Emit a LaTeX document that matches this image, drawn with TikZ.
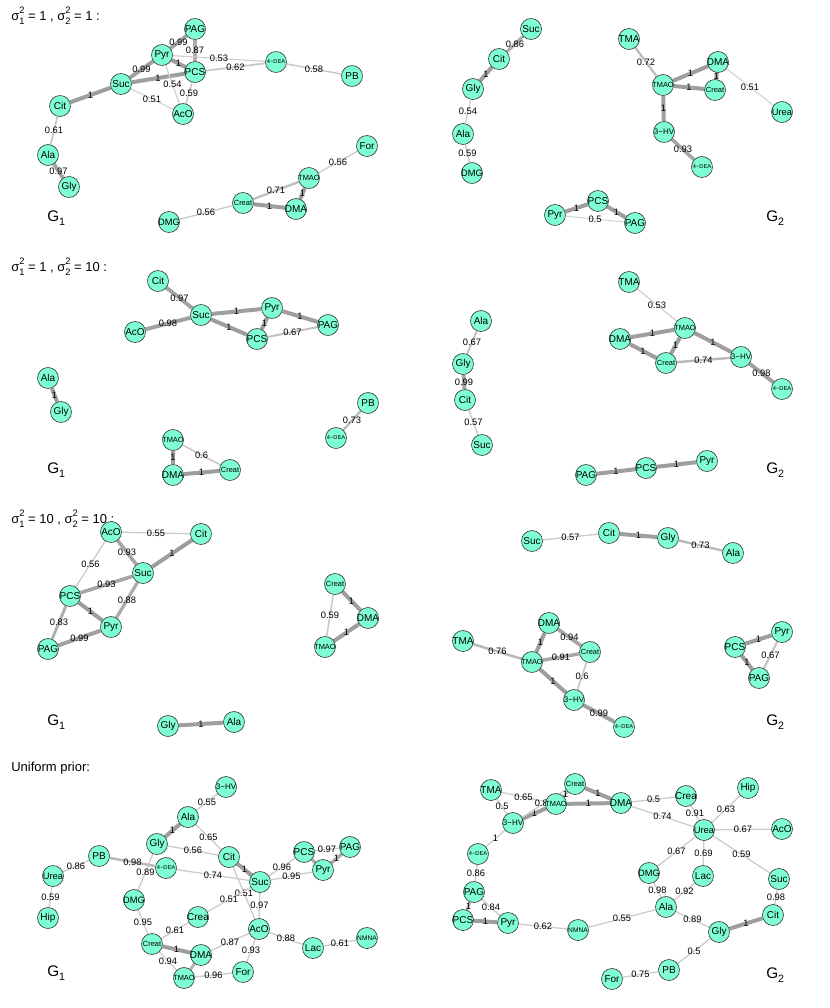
\documentclass[tikz,border=0pt]{standalone}
\usepackage{fontspec}
\setmainfont{Liberation Sans}
\definecolor{aqua}{HTML}{7FFFD4}
\pgfdeclarelayer{bg}
\pgfsetlayers{bg,main}
\tikzset{
  vtx/.style={circle, fill=aqua, draw=black!75, line width=0.5pt, minimum size=15.75pt, inner sep=0pt},
  elab/.style={font=\fontsize{7}{8}\selectfont, inner sep=0pt, text=black},
  ttl/.style={font=\fontsize{9.75}{11}\selectfont, anchor=west, inner sep=0pt},
  glab/.style={font=\fontsize{11.5}{13}\selectfont, anchor=west, inner sep=0pt}
}
\newcommand\VV[4][7.5]{\node[vtx,font=\fontsize{#1}{#1}\selectfont] (#2) at (#3) {\makebox[0pt]{#4}};}
\newcommand\EE[4][]{%
  \def\wt{#1}\ifx\wt\empty\def\wt{#4}\fi
  \pgfmathsetmacro\lw{0.75*(1+6*(\wt-0.5))}%
  \pgfmathtruncatemacro\gv{18+40*(\wt-0.5)}%
  \begin{pgfonlayer}{bg}
  \draw[line width=\lw pt,draw=black!\gv] (#2) -- node[elab]{#4} (#3);
  \end{pgfonlayer}}
\newcommand\sgm[1]{σ\rlap{\raisebox{0.5em}{\fontsize{7}{7}\selectfont 2}}\raisebox{-0.35em}{\fontsize{7}{7}\selectfont #1}}
\newcommand\Gsub[1]{G\raisebox{-0.3em}{\fontsize{8}{8}\selectfont #1}}
\begin{document}
\begin{tikzpicture}[x=0.75pt,y=-0.75pt]
\useasboundingbox (0,0) rectangle (830,1008);
% titles and graph labels
\node[ttl] (t1) at (11,16) {\sgm{1} = 1 , \sgm{2} = 1 :};
\node[ttl] (t2) at (11,267) {\sgm{1} = 1 , \sgm{2} = 10 :};
\node[ttl] (t3) at (11,519) {\sgm{1} = 10 , \sgm{2} = 10 :};
\node[ttl] (t4) at (11,768) {Uniform prior:};
\node[glab] (g11) at (47,218) {\Gsub{1}};
\node[glab] (g12) at (766,218) {\Gsub{2}};
\node[glab] (g21) at (47,470) {\Gsub{1}};
\node[glab] (g22) at (766,470) {\Gsub{2}};
\node[glab] (g31) at (47,722) {\Gsub{1}};
\node[glab] (g32) at (766,722) {\Gsub{2}};
\node[glab] (g41) at (47,973) {\Gsub{1}};
\node[glab] (g42) at (766,975) {\Gsub{2}};
% ---------- panel 1 G1
\VV{aPAG}{195,29}{PAG}
\VV{aPyr}{162,55}{Pyr}
\VV{aPCS}{195,72}{PCS}
\VV[4.3]{a4DEA}{276,62}{4−DEA}
\VV{aPB}{352,76}{PB}
\VV{aSuc}{121,84}{Suc}
\VV{aCit}{60,106}{Cit}
\VV{aAcO}{183,114}{AcO}
\VV{aAla}{48,155}{Ala}
\VV{aGly}{69,187}{Gly}
\VV{aFor}{367,146}{For}
\VV[5.6]{aTMAO}{309,178}{TMAO}
\VV{aDMA}{296,209}{DMA}
\VV[5.6]{aCreat}{243,203}{Creat}
\VV[7]{aDMG}{169,222}{DMG}
\EE[0.95]{aPAG}{aPyr}{0.99}
\EE{aPAG}{aPCS}{0.87}
\EE{aPyr}{aPCS}{1}
\EE{aPyr}{a4DEA}{0.53}
\EE{aPCS}{a4DEA}{0.62}
\EE{a4DEA}{aPB}{0.58}
\EE{aSuc}{aPyr}{0.99}
\EE{aSuc}{aPCS}{1}
\EE{aPyr}{aAcO}{0.54}
\EE{aPCS}{aAcO}{0.59}
\EE{aSuc}{aAcO}{0.51}
\EE{aSuc}{aCit}{1}
\EE{aCit}{aAla}{0.61}
\EE{aAla}{aGly}{0.97}
\EE{aFor}{aTMAO}{0.56}
\EE{aTMAO}{aCreat}{0.71}
\EE{aTMAO}{aDMA}{1}
\EE{aCreat}{aDMA}{1}
\EE{aCreat}{aDMG}{0.56}
% ---------- panel 1 G2
\VV{bSuc}{531,29}{Suc}
\VV{bCit}{499,59}{Cit}
\VV{bGly}{473,89}{Gly}
\VV{bAla}{463,134}{Ala}
\VV[7]{bDMG}{472,173}{DMG}
\VV{bTMA}{629,39}{TMA}
\VV{bDMA}{718,62}{DMA}
\VV[5.6]{bTMAO}{663,85}{TMAO}
\VV[5.6]{bCreat}{715,90}{Creat}
\VV[7]{bUrea}{782,112}{Urea}
\VV[6]{b3HV}{664,132}{3−HV}
\VV[4.3]{b4DEA}{702,167}{4−DEA}
\VV{bPCS}{598,201}{PCS}
\VV{bPyr}{555,215}{Pyr}
\VV{bPAG}{635,223}{PAG}
\EE{bSuc}{bCit}{0.86}
\EE{bCit}{bGly}{1}
\EE{bGly}{bAla}{0.54}
\EE{bAla}{bDMG}{0.59}
\EE{bTMA}{bTMAO}{0.72}
\EE{bTMAO}{bDMA}{1}
\EE{bTMAO}{bCreat}{1}
\EE{bDMA}{bCreat}{1}
\EE{bDMA}{bUrea}{0.51}
\EE{bTMAO}{b3HV}{1}
\EE{b3HV}{b4DEA}{0.93}
\EE{bPyr}{bPCS}{1}
\EE{bPCS}{bPAG}{1}
\EE{bPyr}{bPAG}{0.5}
% ---------- panel 2 G1
\VV{cCit}{158,281}{Cit}
\VV{cSuc}{201,315}{Suc}
\VV{cAcO}{135,332}{AcO}
\VV{cPyr}{272,308}{Pyr}
\VV{cPAG}{328,325}{PAG}
\VV{cPCS}{257,339}{PCS}
\VV{cAla}{48,378}{Ala}
\VV{cGly}{61,412}{Gly}
\VV{cPB}{368,403}{PB}
\VV[4.3]{c4DEA}{336,438}{4−DEA}
\VV[5.6]{cTMAO}{173,440}{TMAO}
\VV{cDMA}{173,475}{DMA}
\VV[5.6]{cCreat}{230,470}{Creat}
\EE{cCit}{cSuc}{0.97}
\EE{cAcO}{cSuc}{0.98}
\EE{cSuc}{cPyr}{1}
\EE{cSuc}{cPCS}{1}
\EE{cPyr}{cPCS}{1}
\EE{cPyr}{cPAG}{1}
\EE{cPCS}{cPAG}{0.67}
\EE{cAla}{cGly}{1}
\EE{cPB}{c4DEA}{0.73}
\EE{cTMAO}{cDMA}{1}
\EE{cTMAO}{cCreat}{0.6}
\EE{cDMA}{cCreat}{1}
% ---------- panel 2 G2
\VV{dTMA}{629,282}{TMA}
\VV{dAla}{481,321}{Ala}
\VV[5.6]{dTMAO}{685,328}{TMAO}
\VV{dDMA}{620,339}{DMA}
\VV[5.6]{dCreat}{666,363}{Creat}
\VV[6]{d3HV}{741,357}{3−HV}
\VV[4.3]{d4DEA}{782,389}{4−DEA}
\VV{dGly}{463,364}{Gly}
\VV{dCit}{465,400}{Cit}
\VV{dSuc}{482,445}{Suc}
\VV{dPAG}{586,475}{PAG}
\VV{dPCS}{646,468}{PCS}
\VV{dPyr}{707,461}{Pyr}
\EE{dTMA}{dTMAO}{0.53}
\EE{dDMA}{dTMAO}{1}
\EE{dDMA}{dCreat}{1}
\EE{dTMAO}{dCreat}{1}
\EE{dTMAO}{d3HV}{1}
\EE{dCreat}{d3HV}{0.74}
\EE{d3HV}{d4DEA}{0.98}
\EE{dAla}{dGly}{0.67}
\EE{dGly}{dCit}{0.99}
\EE{dCit}{dSuc}{0.57}
\EE{dPAG}{dPCS}{1}
\EE{dPCS}{dPyr}{1}
% ---------- panel 3 G1
\VV{eAcO}{111,532}{AcO}
\VV{eCit}{201,534}{Cit}
\VV{eSuc}{143,573}{Suc}
\VV{ePCS}{70,596}{PCS}
\VV{ePyr}{111,627}{Pyr}
\VV{ePAG}{48,649}{PAG}
\VV[5.6]{eCreat}{335,584}{Creat}
\VV{eDMA}{368,618}{DMA}
\VV[5.6]{eTMAO}{325,647}{TMAO}
\VV{eGly}{168,726}{Gly}
\VV{eAla}{234,722}{Ala}
\EE{eAcO}{eCit}{0.55}
\EE{eAcO}{eSuc}{0.93}
\EE{eCit}{eSuc}{1}
\EE{eAcO}{ePCS}{0.56}
\EE{ePCS}{eSuc}{0.93}
\EE{ePCS}{ePyr}{1}
\EE{eSuc}{ePyr}{0.88}
\EE{ePCS}{ePAG}{0.83}
\EE{ePAG}{ePyr}{0.99}
\EE{eCreat}{eDMA}{1}
\EE{eCreat}{eTMAO}{0.59}
\EE{eTMAO}{eDMA}{1}
\EE{eGly}{eAla}{1}
% ---------- panel 3 G2
\VV{fSuc}{532,541}{Suc}
\VV{fCit}{609,533}{Cit}
\VV{fGly}{668,538}{Gly}
\VV{fAla}{733,553}{Ala}
\VV{fTMA}{463,641}{TMA}
\VV{fDMA}{549,623}{DMA}
\VV[5.6]{fCreat}{590,652}{Creat}
\VV[5.6]{fTMAO}{532,662}{TMAO}
\VV[6]{f3HV}{574,700}{3−HV}
\VV[4.3]{f4DEA}{624,727}{4−DEA}
\VV{fPCS}{735,647}{PCS}
\VV{fPyr}{782,632}{Pyr}
\VV{fPAG}{759,678}{PAG}
\EE{fSuc}{fCit}{0.57}
\EE{fCit}{fGly}{1}
\EE{fGly}{fAla}{0.73}
\EE{fTMA}{fTMAO}{0.76}
\EE{fDMA}{fTMAO}{1}
\EE{fDMA}{fCreat}{0.94}
\EE{fTMAO}{fCreat}{0.91}
\EE{fTMAO}{f3HV}{1}
\EE{fCreat}{f3HV}{0.6}
\EE{f3HV}{f4DEA}{0.99}
\EE{fPCS}{fPyr}{1}
\EE{fPCS}{fPAG}{1}
\EE{fPyr}{fPAG}{0.67}
% ---------- panel 4 G1
\VV[6]{g3HV}{226,787}{3−HV}
\VV{gAla}{188,817}{Ala}
\VV{gGly}{157,844}{Gly}
\VV{gCit}{229,857}{Cit}
\VV{gPB}{99,856}{PB}
\VV[4.3]{g4DEA}{166,868}{4−DEA}
\VV[7]{gUrea}{53,876}{Urea}
\VV{gSuc}{260,882}{Suc}
\VV{gPCS}{304,852}{PCS}
\VV{gPAG}{350,847}{PAG}
\VV{gPyr}{323,870}{Pyr}
\VV[7]{gDMG}{134,900}{DMG}
\VV{gHip}{48,918}{Hip}
\VV{gCrea}{198,917}{Crea}
\VV{gAcO}{259,929}{AcO}
\VV[5]{gNMNA}{367,938}{NMNA}
\VV{gLac}{313,948}{Lac}
\VV[5.6]{gCreat}{152,944}{Creat}
\VV{gDMA}{201,955}{DMA}
\VV[5.6]{gTMAO}{184,978}{TMAO}
\VV{gFor}{243,972}{For}
\EE[0.55]{g3HV}{gAla}{0.55}
\EE{gAla}{gGly}{1}
\EE[0.55]{gAla}{gCit}{0.65}
\EE[0.55]{gGly}{gCit}{0.56}
\EE[0.55]{gUrea}{gPB}{0.86}
\EE[0.75]{gPB}{g4DEA}{0.98}
\EE[0.55]{gGly}{gDMG}{0.89}
\EE[0.55]{g4DEA}{gSuc}{0.74}
\EE{gCit}{gSuc}{1}
\EE[0.55]{gCit}{gAcO}{0.51}
\EE[0.55]{gCrea}{gSuc}{0.51}
\EE[0.55]{gSuc}{gAcO}{0.97}
\EE[0.55]{gPCS}{gSuc}{0.96}
\EE[0.55]{gPCS}{gPAG}{0.97}
\EE[0.9]{gPAG}{gPyr}{1}
\EE[0.9]{gPCS}{gPyr}{}
\EE[0.55]{gSuc}{gPyr}{0.95}
\EE[0.55]{gUrea}{gHip}{0.59}
\EE[0.55]{gDMG}{gCreat}{0.95}
\EE[0.55]{gCrea}{gCreat}{0.61}
\EE{gCreat}{gDMA}{1}
\EE[0.55]{gDMA}{gAcO}{0.87}
\EE[0.55]{gAcO}{gFor}{0.93}
\EE[0.55]{gAcO}{gLac}{0.88}
\EE[0.55]{gLac}{gNMNA}{0.61}
\EE[0.55]{gTMAO}{gFor}{0.96}
\EE[0.55]{gCreat}{gTMAO}{0.94}
\EE[0.8]{gDMA}{gTMAO}{}
% ---------- panel 4 G2
\VV{hTMA}{491,790}{TMA}
\VV[5.6]{hCreat}{575,784}{Creat}
\VV[5.6]{hTMAO}{556,804}{TMAO}
\VV{hDMA}{621,803}{DMA}
\VV{hCrea}{686,796}{Crea}
\VV{hHip}{748,788}{Hip}
\VV[6]{h3HV}{513,823}{3−HV}
\VV[7]{hUrea}{704,830}{Urea}
\VV{hAcO}{782,829}{AcO}
\VV[4.3]{h4DEA}{478,854}{4−DEA}
\VV[7]{hDMG}{649,873}{DMG}
\VV{hLac}{703,876}{Lac}
\VV{hSuc}{779,879}{Suc}
\VV{hPAG}{474,892}{PAG}
\VV{hAla}{666,907}{Ala}
\VV{hCit}{773,915}{Cit}
\VV{hPCS}{463,920}{PCS}
\VV{hPyr}{508,923}{Pyr}
\VV[5]{hNMNA}{578,930}{NMNA}
\VV{hGly}{719,932}{Gly}
\VV{hPB}{669,970}{PB}
\VV{hFor}{612,979}{For}
\EE[0.55]{hTMA}{hTMAO}{0.65}
\EE[0.55]{hTMA}{h3HV}{0.5}
\EE{h3HV}{hTMAO}{1}
\EE[0.55]{h3HV}{hCreat}{0.85}
\EE[0.75]{hTMAO}{hCreat}{1}
\EE{hCreat}{hDMA}{1}
\EE{hTMAO}{hDMA}{1}
\EE[0.55]{hDMA}{hCrea}{0.5}
\EE[0.55]{hDMA}{hUrea}{0.74}
\EE[0.55]{hCrea}{hUrea}{0.91}
\EE[0.55]{hHip}{hUrea}{0.63}
\EE[0.55]{hUrea}{hAcO}{0.67}
\EE[0.55]{hUrea}{hDMG}{0.67}
\EE[0.55]{hUrea}{hLac}{0.69}
\EE[0.55]{hUrea}{hSuc}{0.59}
\EE[0.55]{hSuc}{hCit}{0.98}
\EE[0.55]{hDMG}{hAla}{0.98}
\EE[0.55]{hLac}{hAla}{0.92}
\EE[0.55]{hAla}{hGly}{0.89}
\EE{hGly}{hCit}{1}
\EE[0.55]{hAla}{hNMNA}{0.55}
\EE[0.55]{hNMNA}{hPyr}{0.62}
\EE[0.55]{hGly}{hPB}{0.5}
\EE[0.55]{hPB}{hFor}{0.75}
\EE[0.55]{h3HV}{h4DEA}{1}
\EE[0.55]{h4DEA}{hPAG}{0.86}
\EE[0.8]{hPAG}{hPCS}{1}
\EE[0.55]{hPAG}{hPyr}{0.84}
\EE{hPCS}{hPyr}{1}
\end{tikzpicture}
\end{document}
